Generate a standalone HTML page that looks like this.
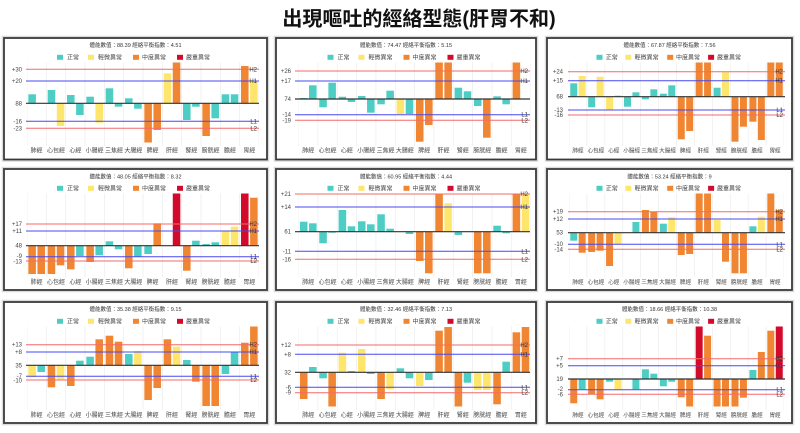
<!DOCTYPE html>
<html><head><meta charset="utf-8"><style>
html,body{margin:0;padding:0;background:#fff;}
svg{display:block}
text{font-family:"Liberation Sans","Noto Sans CJK TC",sans-serif}
.t{fill:#4ecdc4}.y{fill:#fde66b}.o{fill:#f08532}.r{fill:#d20a2b}
.box{fill:#fff;stroke:#3a3a3a;stroke-width:1.8}
.halo{fill:none;stroke:#dcdcdc;stroke-width:1.5}
.grid{stroke:#ececec;stroke-width:0.7;fill:none}
.rd{stroke:#f36a6a;stroke-width:1;fill:none}
.bl{stroke:#4848f0;stroke-width:1;fill:none}
.bk{stroke:#333;stroke-width:1.2;fill:none}
.yl{font-size:6px;text-anchor:end;fill:#444}
.rl{font-size:6px;text-anchor:end;fill:#333}
.xl{font-size:6px;text-anchor:middle;fill:#444}
.xs{font-size:5.6px;text-anchor:middle;fill:#444}
.sub{font-size:5.5px;text-anchor:middle;fill:#333}
.lg{font-size:6px;fill:#444}
.ttl{font-size:20px;font-weight:bold;text-anchor:middle;fill:#111}
</style></head><body>
<svg width="800" height="433" viewBox="0 0 800 433" xmlns="http://www.w3.org/2000/svg">
<text class="ttl" x="419" y="25.5">出現嘔吐的經絡型態(肝胃不和)</text>

<!-- ================= CHART 1 ================= -->
<rect class="halo" x="2.5" y="36.5" width="266" height="124.5"/>
<rect class="box" x="4" y="38" width="263" height="121.5"/>
<text class="sub" x="135.5" y="47">體能數值：88.39 經絡平衡指數：4.51</text>
<rect class="t" x="57" y="54.8" width="6" height="5"/><text class="lg" x="67" y="59.4">正常</text>
<rect class="y" x="88" y="54.8" width="6" height="5"/><text class="lg" x="98" y="59.4">輕微異常</text>
<rect class="o" x="133" y="54.8" width="6" height="5"/><text class="lg" x="142" y="59.4">中度異常</text>
<rect class="r" x="177" y="54.8" width="6" height="5"/><text class="lg" x="186" y="59.4">嚴重異常</text>
<svg x="27" y="0" width="232" height="433" viewBox="0 0 120 433" preserveAspectRatio="none">
<path class="grid" vector-effect="non-scaling-stroke" d="M0 62.5V146M10 62.5V146M20 62.5V146M30 62.5V146M40 62.5V146M50 62.5V146M60 62.5V146M70 62.5V146M80 62.5V146M90 62.5V146M100 62.5V146M110 62.5V146M120 62.5V146"/>
<rect class="t" x="0.7" y="94.3" width="3.9" height="9"/>
<rect class="t" x="10.7" y="90" width="3.9" height="13.3"/>
<rect class="y" x="15.4" y="103.3" width="3.9" height="22.7"/>
<rect class="t" x="20.7" y="95" width="3.9" height="8.3"/>
<rect class="t" x="25.4" y="103.3" width="3.9" height="11.7"/>
<rect class="t" x="30.7" y="96.7" width="3.9" height="6.6"/>
<rect class="y" x="35.4" y="103.3" width="3.9" height="19.4"/>
<rect class="t" x="40.7" y="88.3" width="3.9" height="15"/>
<rect class="t" x="45.4" y="103.3" width="3.9" height="3.4"/>
<rect class="t" x="50.7" y="98.3" width="3.9" height="5"/>
<rect class="t" x="55.4" y="103.3" width="3.9" height="5.4"/>
<rect class="o" x="60.7" y="103.3" width="3.9" height="39.2"/>
<rect class="o" x="65.4" y="103.3" width="3.9" height="26.7"/>
<rect class="y" x="70.7" y="73.3" width="3.9" height="30"/>
<rect class="o" x="75.4" y="62.5" width="3.9" height="40.8"/>
<rect class="t" x="80.7" y="103.3" width="3.9" height="16.7"/>
<rect class="t" x="85.4" y="103.3" width="3.9" height="3.4"/>
<rect class="o" x="90.7" y="103.3" width="3.9" height="32.7"/>
<rect class="t" x="95.4" y="103.3" width="3.9" height="15"/>
<rect class="t" x="100.7" y="94.3" width="3.9" height="9"/>
<rect class="t" x="105.4" y="94.3" width="3.9" height="9"/>
<rect class="o" x="110.7" y="66" width="3.9" height="37.3"/>
<rect class="y" x="115.4" y="81" width="3.9" height="22.3"/>
</svg>
<path class="rd" d="M26 69.3H259M26 128.3H259"/>
<path class="bl" d="M26 81H259M26 121.3H259"/>
<path class="bk" d="M26 103.3H259"/>
<text class="yl" x="22" y="71.3">+30</text>
<text class="yl" x="22" y="83">+20</text>
<text class="yl" x="22" y="105.3">88</text>
<text class="yl" x="22" y="123.3">-16</text>
<text class="yl" x="22" y="130.3">-23</text>
<text class="rl" x="257" y="71.3">H2</text>
<text class="rl" x="257" y="83">H1</text>
<text class="rl" x="257" y="123.3">L1</text>
<text class="rl" x="257" y="130.3">L2</text>
<text class="xl" x="36.67" y="152.5">肺經</text>
<text class="xl" x="56" y="152.5">心包經</text>
<text class="xl" x="75.33" y="152.5">心經</text>
<text class="xl" x="94.67" y="152.5">小腸經</text>
<text class="xl" x="114" y="152.5">三焦經</text>
<text class="xl" x="133.33" y="152.5">大腸經</text>
<text class="xl" x="152.67" y="152.5">脾經</text>
<text class="xl" x="172" y="152.5">肝經</text>
<text class="xl" x="191.33" y="152.5">腎經</text>
<text class="xl" x="210.67" y="152.5">膀胱經</text>
<text class="xl" x="230" y="152.5">膽經</text>
<text class="xl" x="249.33" y="152.5">胃經</text>

<!-- ================= CHART 2 ================= -->
<rect class="halo" x="274.5" y="36.5" width="263" height="124.5"/>
<rect class="box" x="276" y="38" width="260" height="121.5"/>
<text class="sub" x="406" y="47">體能數值：74.47 經絡平衡指數：5.15</text>
<rect class="t" x="327.5" y="54.8" width="6" height="5"/><text class="lg" x="337.5" y="59.4">正常</text>
<rect class="y" x="358.5" y="54.8" width="6" height="5"/><text class="lg" x="368.5" y="59.4">輕微異常</text>
<rect class="o" x="403.5" y="54.8" width="6" height="5"/><text class="lg" x="412.5" y="59.4">中度異常</text>
<rect class="r" x="447.5" y="54.8" width="6" height="5"/><text class="lg" x="456.5" y="59.4">嚴重異常</text>
<svg x="298.6" y="0" width="232" height="433" viewBox="0 0 120 433" preserveAspectRatio="none">
<path class="grid" vector-effect="non-scaling-stroke" d="M0 62.5V146M10 62.5V146M20 62.5V146M30 62.5V146M40 62.5V146M50 62.5V146M60 62.5V146M70 62.5V146M80 62.5V146M90 62.5V146M100 62.5V146M110 62.5V146M120 62.5V146"/>
<rect class="t" x="0.7" y="98" width="3.9" height="1"/>
<rect class="t" x="5.4" y="85.3" width="3.9" height="13.7"/>
<rect class="t" x="10.7" y="99" width="3.9" height="8.3"/>
<rect class="t" x="15.4" y="82.7" width="3.9" height="16.3"/>
<rect class="t" x="20.7" y="96.7" width="3.9" height="2.3"/>
<rect class="t" x="25.4" y="99" width="3.9" height="3"/>
<rect class="t" x="30.7" y="96" width="3.9" height="3"/>
<rect class="t" x="35.4" y="99" width="3.9" height="13.7"/>
<rect class="t" x="40.7" y="99" width="3.9" height="5.3"/>
<rect class="t" x="45.4" y="90.7" width="3.9" height="8.3"/>
<rect class="y" x="50.7" y="99" width="3.9" height="15"/>
<rect class="t" x="55.4" y="99" width="3.9" height="15"/>
<rect class="o" x="60.7" y="99" width="3.9" height="42.7"/>
<rect class="o" x="65.4" y="99" width="3.9" height="26"/>
<rect class="o" x="70.7" y="62.5" width="3.9" height="36.5"/>
<rect class="o" x="75.4" y="62.5" width="3.9" height="36.5"/>
<rect class="t" x="80.7" y="87.7" width="3.9" height="11.3"/>
<rect class="t" x="85.4" y="91.3" width="3.9" height="7.7"/>
<rect class="t" x="90.7" y="99" width="3.9" height="7"/>
<rect class="o" x="95.4" y="99" width="3.9" height="38.7"/>
<rect class="t" x="100.7" y="96.3" width="3.9" height="2.7"/>
<rect class="t" x="105.4" y="99" width="3.9" height="5.3"/>
<rect class="o" x="110.7" y="62.5" width="3.9" height="36.5"/>
</svg>
<path class="rd" d="M295 71H530M295 120.3H530"/>
<path class="bl" d="M295 81H530M295 114.7H530"/>
<path class="bk" d="M295 99H530"/>
<text class="yl" x="291" y="73">+26</text>
<text class="yl" x="291" y="83">+17</text>
<text class="yl" x="291" y="101">74</text>
<text class="yl" x="291" y="116.7">-14</text>
<text class="yl" x="291" y="122.3">-19</text>
<text class="rl" x="528" y="73">H2</text>
<text class="rl" x="528" y="83">H1</text>
<text class="rl" x="528" y="116.7">L1</text>
<text class="rl" x="528" y="122.3">L2</text>
<text class="xl" x="308.27" y="152.5">肺經</text>
<text class="xl" x="327.6" y="152.5">心包經</text>
<text class="xl" x="346.93" y="152.5">心經</text>
<text class="xl" x="366.27" y="152.5">小腸經</text>
<text class="xl" x="385.6" y="152.5">三焦經</text>
<text class="xl" x="404.93" y="152.5">大腸經</text>
<text class="xl" x="424.27" y="152.5">脾經</text>
<text class="xl" x="443.6" y="152.5">肝經</text>
<text class="xl" x="462.93" y="152.5">腎經</text>
<text class="xl" x="482.27" y="152.5">膀胱經</text>
<text class="xl" x="501.6" y="152.5">膽經</text>
<text class="xl" x="520.93" y="152.5">胃經</text>

<!-- ================= CHART 3 ================= -->
<rect class="halo" x="545.5" y="36.5" width="248" height="124.5"/>
<rect class="box" x="547" y="38" width="245" height="121.5"/>
<text class="sub" x="669.5" y="47">體能數值：67.87 經絡平衡指數：7.56</text>
<rect class="t" x="596.5" y="54.8" width="6" height="5"/><text class="lg" x="605.8" y="59.4">正常</text>
<rect class="y" x="625.3" y="54.8" width="6" height="5"/><text class="lg" x="634.6" y="59.4">輕微異常</text>
<rect class="o" x="667.2" y="54.8" width="6" height="5"/><text class="lg" x="676" y="59.4">中度異常</text>
<rect class="r" x="708.1" y="54.8" width="6" height="5"/><text class="lg" x="717" y="59.4">嚴重異常</text>
<svg x="569" y="0" width="215" height="433" viewBox="0 0 120 433" preserveAspectRatio="none">
<path class="grid" vector-effect="non-scaling-stroke" d="M0 62.5V146M10 62.5V146M20 62.5V146M30 62.5V146M40 62.5V146M50 62.5V146M60 62.5V146M70 62.5V146M80 62.5V146M90 62.5V146M100 62.5V146M110 62.5V146M120 62.5V146"/>
<rect class="t" x="0.7" y="83.3" width="3.9" height="13.4"/>
<rect class="y" x="5.4" y="76" width="3.9" height="20.7"/>
<rect class="t" x="10.7" y="96.7" width="3.9" height="10.6"/>
<rect class="y" x="15.4" y="76.7" width="3.9" height="20"/>
<rect class="y" x="20.7" y="96.7" width="3.9" height="13.3"/>
<rect class="t" x="25.4" y="95.7" width="3.9" height="1"/>
<rect class="t" x="30.7" y="96.7" width="3.9" height="10"/>
<rect class="t" x="35.4" y="92.3" width="3.9" height="4.4"/>
<rect class="t" x="40.7" y="96.7" width="3.9" height="2.6"/>
<rect class="t" x="45.4" y="89.3" width="3.9" height="7.4"/>
<rect class="t" x="50.7" y="93.7" width="3.9" height="3"/>
<rect class="t" x="55.4" y="85.3" width="3.9" height="11.4"/>
<rect class="o" x="60.7" y="96.7" width="3.9" height="42.6"/>
<rect class="o" x="65.4" y="96.7" width="3.9" height="34.3"/>
<rect class="o" x="70.7" y="62.5" width="3.9" height="34.2"/>
<rect class="o" x="75.4" y="62.5" width="3.9" height="34.2"/>
<rect class="t" x="80.7" y="87.7" width="3.9" height="9"/>
<rect class="y" x="85.4" y="72.3" width="3.9" height="24.4"/>
<rect class="o" x="90.7" y="96.7" width="3.9" height="45"/>
<rect class="o" x="95.4" y="96.7" width="3.9" height="30"/>
<rect class="o" x="100.7" y="96.7" width="3.9" height="25"/>
<rect class="o" x="105.4" y="96.7" width="3.9" height="43.3"/>
<rect class="o" x="110.7" y="62.5" width="3.9" height="34.2"/>
<rect class="o" x="115.4" y="62.5" width="3.9" height="34.2"/>
</svg>
<path class="rd" d="M568 71.7H785M568 115H785"/>
<path class="bl" d="M568 80.7H785M568 110H785"/>
<path class="bk" d="M568 96.7H785"/>
<text class="yl" x="563" y="73.7">+24</text>
<text class="yl" x="563" y="82.7">+15</text>
<text class="yl" x="563" y="98.7">68</text>
<text class="yl" x="563" y="112">-13</text>
<text class="yl" x="563" y="117">-16</text>
<text class="rl" x="783" y="73.7">H2</text>
<text class="rl" x="783" y="82.7">H1</text>
<text class="rl" x="783" y="112">L1</text>
<text class="rl" x="783" y="117">L2</text>
<text class="xs" x="577.96" y="152.5">肺經</text>
<text class="xs" x="595.88" y="152.5">心包經</text>
<text class="xs" x="613.79" y="152.5">心經</text>
<text class="xs" x="631.71" y="152.5">小腸經</text>
<text class="xs" x="649.63" y="152.5">三焦經</text>
<text class="xs" x="667.54" y="152.5">大腸經</text>
<text class="xs" x="685.46" y="152.5">脾經</text>
<text class="xs" x="703.38" y="152.5">肝經</text>
<text class="xs" x="721.29" y="152.5">腎經</text>
<text class="xs" x="739.21" y="152.5">膀胱經</text>
<text class="xs" x="757.13" y="152.5">膽經</text>
<text class="xs" x="775.04" y="152.5">胃經</text>

<!-- ================= CHART 4 ================= -->
<rect class="halo" x="2.5" y="167.5" width="266" height="124"/>
<rect class="box" x="4" y="169" width="263" height="121"/>
<text class="sub" x="135.5" y="178.5">體能數值：48.05 經絡平衡指數：8.32</text>
<rect class="t" x="57" y="185.8" width="6" height="5"/><text class="lg" x="67" y="190.4">正常</text>
<rect class="y" x="88" y="185.8" width="6" height="5"/><text class="lg" x="98" y="190.4">輕微異常</text>
<rect class="o" x="133" y="185.8" width="6" height="5"/><text class="lg" x="142" y="190.4">中度異常</text>
<rect class="r" x="177" y="185.8" width="6" height="5"/><text class="lg" x="186" y="190.4">嚴重異常</text>
<svg x="27" y="0" width="232" height="433" viewBox="0 0 120 433" preserveAspectRatio="none">
<path class="grid" vector-effect="non-scaling-stroke" d="M0 193.5V277.5M10 193.5V277.5M20 193.5V277.5M30 193.5V277.5M40 193.5V277.5M50 193.5V277.5M60 193.5V277.5M70 193.5V277.5M80 193.5V277.5M90 193.5V277.5M100 193.5V277.5M110 193.5V277.5M120 193.5V277.5"/>
<rect class="o" x="0.7" y="245.7" width="3.9" height="28.3"/>
<rect class="o" x="5.4" y="245.7" width="3.9" height="28.3"/>
<rect class="o" x="10.7" y="245.7" width="3.9" height="28.3"/>
<rect class="o" x="15.4" y="245.7" width="3.9" height="19.6"/>
<rect class="o" x="20.7" y="245.7" width="3.9" height="23.6"/>
<rect class="t" x="25.4" y="245.7" width="3.9" height="10.3"/>
<rect class="o" x="30.7" y="245.7" width="3.9" height="16.3"/>
<rect class="t" x="35.4" y="245.7" width="3.9" height="9.6"/>
<rect class="t" x="40.7" y="241.3" width="3.9" height="4.4"/>
<rect class="t" x="45.4" y="245.7" width="3.9" height="3.6"/>
<rect class="o" x="50.7" y="245.7" width="3.9" height="22.6"/>
<rect class="t" x="55.4" y="245.7" width="3.9" height="11"/>
<rect class="t" x="60.7" y="245.7" width="3.9" height="8.3"/>
<rect class="o" x="65.4" y="223.3" width="3.9" height="22.4"/>
<rect class="r" x="75.4" y="193.5" width="3.9" height="52.2"/>
<rect class="o" x="80.7" y="245.7" width="3.9" height="25"/>
<rect class="t" x="85.4" y="240.7" width="3.9" height="5"/>
<rect class="t" x="90.7" y="244" width="3.9" height="1.7"/>
<rect class="t" x="95.4" y="242.3" width="3.9" height="3.4"/>
<rect class="y" x="100.7" y="230.7" width="3.9" height="15"/>
<rect class="y" x="105.4" y="226.7" width="3.9" height="19"/>
<rect class="r" x="110.7" y="193.5" width="3.9" height="52.2"/>
<rect class="o" x="115.4" y="197.7" width="3.9" height="48"/>
</svg>
<path class="rd" d="M26 224H259M26 261H259"/>
<path class="bl" d="M26 231H259M26 256.7H259"/>
<path class="bk" d="M26 245.7H259"/>
<text class="yl" x="22" y="226">+17</text>
<text class="yl" x="22" y="233">+11</text>
<text class="yl" x="22" y="247.7">48</text>
<text class="yl" x="22" y="258.2">-9</text>
<text class="yl" x="22" y="263.5">-13</text>
<text class="rl" x="257" y="226">H2</text>
<text class="rl" x="257" y="233">H1</text>
<text class="rl" x="257" y="258.7">L1</text>
<text class="rl" x="257" y="263">L2</text>
<text class="xl" x="36.67" y="284">肺經</text>
<text class="xl" x="56" y="284">心包經</text>
<text class="xl" x="75.33" y="284">心經</text>
<text class="xl" x="94.67" y="284">小腸經</text>
<text class="xl" x="114" y="284">三焦經</text>
<text class="xl" x="133.33" y="284">大腸經</text>
<text class="xl" x="152.67" y="284">脾經</text>
<text class="xl" x="172" y="284">肝經</text>
<text class="xl" x="191.33" y="284">腎經</text>
<text class="xl" x="210.67" y="284">膀胱經</text>
<text class="xl" x="230" y="284">膽經</text>
<text class="xl" x="249.33" y="284">胃經</text>

<!-- ================= CHART 5 ================= -->
<rect class="halo" x="274.5" y="167.5" width="263" height="124"/>
<rect class="box" x="276" y="169" width="260" height="121"/>
<text class="sub" x="406" y="178.5">體能數值：60.95 經絡平衡指數：4.44</text>
<rect class="t" x="327.5" y="185.8" width="6" height="5"/><text class="lg" x="337.5" y="190.4">正常</text>
<rect class="y" x="358.5" y="185.8" width="6" height="5"/><text class="lg" x="368.5" y="190.4">輕微異常</text>
<rect class="o" x="403.5" y="185.8" width="6" height="5"/><text class="lg" x="412.5" y="190.4">中度異常</text>
<rect class="r" x="447.5" y="185.8" width="6" height="5"/><text class="lg" x="456.5" y="190.4">嚴重異常</text>
<svg x="298.6" y="0" width="232" height="433" viewBox="0 0 120 433" preserveAspectRatio="none">
<path class="grid" vector-effect="non-scaling-stroke" d="M0 193.5V277.5M10 193.5V277.5M20 193.5V277.5M30 193.5V277.5M40 193.5V277.5M50 193.5V277.5M60 193.5V277.5M70 193.5V277.5M80 193.5V277.5M90 193.5V277.5M100 193.5V277.5M110 193.5V277.5M120 193.5V277.5"/>
<rect class="t" x="0.7" y="221.7" width="3.9" height="10"/>
<rect class="t" x="5.4" y="223.3" width="3.9" height="8.4"/>
<rect class="t" x="10.7" y="231.7" width="3.9" height="11.6"/>
<rect class="t" x="15.4" y="231.7" width="3.9" height="1"/>
<rect class="t" x="20.7" y="210" width="3.9" height="21.7"/>
<rect class="t" x="25.4" y="226.3" width="3.9" height="5.4"/>
<rect class="t" x="30.7" y="221.3" width="3.9" height="10.4"/>
<rect class="t" x="35.4" y="224.3" width="3.9" height="7.4"/>
<rect class="t" x="40.7" y="214.3" width="3.9" height="17.4"/>
<rect class="t" x="45.4" y="228.7" width="3.9" height="3"/>
<rect class="t" x="55.4" y="231.7" width="3.9" height="2.3"/>
<rect class="o" x="60.7" y="231.7" width="3.9" height="29.3"/>
<rect class="o" x="65.4" y="231.7" width="3.9" height="41.6"/>
<rect class="o" x="70.7" y="193.5" width="3.9" height="38.2"/>
<rect class="y" x="75.4" y="203.3" width="3.9" height="28.4"/>
<rect class="t" x="80.7" y="231.7" width="3.9" height="3.3"/>
<rect class="o" x="90.7" y="231.7" width="3.9" height="41.6"/>
<rect class="o" x="95.4" y="231.7" width="3.9" height="41.6"/>
<rect class="t" x="100.7" y="225.7" width="3.9" height="6"/>
<rect class="t" x="105.4" y="231.7" width="3.9" height="1.6"/>
<rect class="o" x="110.7" y="193.5" width="3.9" height="38.2"/>
<rect class="y" x="115.4" y="193.5" width="3.9" height="38.2"/>
</svg>
<path class="rd" d="M295 194H530M295 259.3H530"/>
<path class="bl" d="M295 207H530M295 251.3H530"/>
<path class="bk" d="M295 231.7H530"/>
<text class="yl" x="291" y="196">+21</text>
<text class="yl" x="291" y="209">+14</text>
<text class="yl" x="291" y="233.7">61</text>
<text class="yl" x="291" y="253.3">-11</text>
<text class="yl" x="291" y="261.3">-16</text>
<text class="rl" x="528" y="196">H2</text>
<text class="rl" x="528" y="209">H1</text>
<text class="rl" x="528" y="253.3">L1</text>
<text class="rl" x="528" y="261.3">L2</text>
<text class="xl" x="308.27" y="284">肺經</text>
<text class="xl" x="327.6" y="284">心包經</text>
<text class="xl" x="346.93" y="284">心經</text>
<text class="xl" x="366.27" y="284">小腸經</text>
<text class="xl" x="385.6" y="284">三焦經</text>
<text class="xl" x="404.93" y="284">大腸經</text>
<text class="xl" x="424.27" y="284">脾經</text>
<text class="xl" x="443.6" y="284">肝經</text>
<text class="xl" x="462.93" y="284">腎經</text>
<text class="xl" x="482.27" y="284">膀胱經</text>
<text class="xl" x="501.6" y="284">膽經</text>
<text class="xl" x="520.93" y="284">胃經</text>

<!-- ================= CHART 6 ================= -->
<rect class="halo" x="545.5" y="167.5" width="248" height="124"/>
<rect class="box" x="547" y="169" width="245" height="121"/>
<text class="sub" x="669.5" y="178.5">體能數值：53.24 經絡平衡指數：9</text>
<rect class="t" x="596.5" y="185.8" width="6" height="5"/><text class="lg" x="605.8" y="190.4">正常</text>
<rect class="y" x="625.3" y="185.8" width="6" height="5"/><text class="lg" x="634.6" y="190.4">輕微異常</text>
<rect class="o" x="667.2" y="185.8" width="6" height="5"/><text class="lg" x="676" y="190.4">中度異常</text>
<rect class="r" x="708.1" y="185.8" width="6" height="5"/><text class="lg" x="717" y="190.4">嚴重異常</text>
<svg x="569" y="0" width="215" height="433" viewBox="0 0 120 433" preserveAspectRatio="none">
<path class="grid" vector-effect="non-scaling-stroke" d="M0 193.5V277.5M10 193.5V277.5M20 193.5V277.5M30 193.5V277.5M40 193.5V277.5M50 193.5V277.5M60 193.5V277.5M70 193.5V277.5M80 193.5V277.5M90 193.5V277.5M100 193.5V277.5M110 193.5V277.5M120 193.5V277.5"/>
<rect class="t" x="0.7" y="232.7" width="3.9" height="8"/>
<rect class="o" x="5.4" y="232.7" width="3.9" height="20"/>
<rect class="o" x="10.7" y="232.7" width="3.9" height="19.3"/>
<rect class="o" x="15.4" y="232.7" width="3.9" height="18"/>
<rect class="o" x="20.7" y="232.7" width="3.9" height="33.3"/>
<rect class="y" x="25.4" y="232.7" width="3.9" height="11.6"/>
<rect class="t" x="35.4" y="222" width="3.9" height="10.7"/>
<rect class="o" x="40.7" y="210" width="3.9" height="22.7"/>
<rect class="o" x="45.4" y="211.7" width="3.9" height="21"/>
<rect class="t" x="50.7" y="223.7" width="3.9" height="9"/>
<rect class="y" x="55.4" y="217.3" width="3.9" height="15.4"/>
<rect class="o" x="60.7" y="232.7" width="3.9" height="22.3"/>
<rect class="o" x="65.4" y="232.7" width="3.9" height="21.3"/>
<rect class="o" x="70.7" y="193.5" width="3.9" height="39.2"/>
<rect class="o" x="75.4" y="193.5" width="3.9" height="39.2"/>
<rect class="y" x="80.7" y="220" width="3.9" height="12.7"/>
<rect class="o" x="85.4" y="232.7" width="3.9" height="29"/>
<rect class="o" x="90.7" y="232.7" width="3.9" height="40.6"/>
<rect class="o" x="95.4" y="232.7" width="3.9" height="40.6"/>
<rect class="t" x="100.7" y="226.3" width="3.9" height="6.4"/>
<rect class="y" x="105.4" y="216.7" width="3.9" height="16"/>
<rect class="o" x="110.7" y="193.5" width="3.9" height="39.2"/>
<rect class="o" x="115.4" y="210" width="3.9" height="22.7"/>
</svg>
<path class="rd" d="M568 211.7H785M568 249.3H785"/>
<path class="bl" d="M568 219H785M568 244.3H785"/>
<path class="bk" d="M568 232.7H785"/>
<text class="yl" x="563" y="213.7">+19</text>
<text class="yl" x="563" y="221">+12</text>
<text class="yl" x="563" y="234.7">53</text>
<text class="yl" x="563" y="246">-10</text>
<text class="yl" x="563" y="251.5">-14</text>
<text class="rl" x="783" y="213.7">H2</text>
<text class="rl" x="783" y="221">H1</text>
<text class="rl" x="783" y="246.3">L1</text>
<text class="rl" x="783" y="251.3">L2</text>
<text class="xs" x="577.96" y="284">肺經</text>
<text class="xs" x="595.88" y="284">心包經</text>
<text class="xs" x="613.79" y="284">心經</text>
<text class="xs" x="631.71" y="284">小腸經</text>
<text class="xs" x="649.63" y="284">三焦經</text>
<text class="xs" x="667.54" y="284">大腸經</text>
<text class="xs" x="685.46" y="284">脾經</text>
<text class="xs" x="703.38" y="284">肝經</text>
<text class="xs" x="721.29" y="284">腎經</text>
<text class="xs" x="739.21" y="284">膀胱經</text>
<text class="xs" x="757.13" y="284">膽經</text>
<text class="xs" x="775.04" y="284">胃經</text>

<!-- ================= CHART 7 ================= -->
<rect class="halo" x="2.5" y="300.5" width="266" height="124"/>
<rect class="box" x="4" y="302" width="263" height="121"/>
<text class="sub" x="135.5" y="311">體能數值：35.38 經絡平衡指數：9.15</text>
<rect class="t" x="57" y="318.8" width="6" height="5"/><text class="lg" x="67" y="323.4">正常</text>
<rect class="y" x="88" y="318.8" width="6" height="5"/><text class="lg" x="98" y="323.4">輕微異常</text>
<rect class="o" x="133" y="318.8" width="6" height="5"/><text class="lg" x="142" y="323.4">中度異常</text>
<rect class="r" x="177" y="318.8" width="6" height="5"/><text class="lg" x="186" y="323.4">嚴重異常</text>
<svg x="27" y="0" width="232" height="433" viewBox="0 0 120 433" preserveAspectRatio="none">
<path class="grid" vector-effect="non-scaling-stroke" d="M0 326.5V410M10 326.5V410M20 326.5V410M30 326.5V410M40 326.5V410M50 326.5V410M60 326.5V410M70 326.5V410M80 326.5V410M90 326.5V410M100 326.5V410M110 326.5V410M120 326.5V410"/>
<rect class="y" x="0.7" y="365.3" width="3.9" height="12"/>
<rect class="t" x="5.4" y="365.3" width="3.9" height="6.7"/>
<rect class="o" x="10.7" y="365.3" width="3.9" height="22"/>
<rect class="y" x="15.4" y="365.3" width="3.9" height="14"/>
<rect class="o" x="20.7" y="365.3" width="3.9" height="20.7"/>
<rect class="t" x="25.4" y="360.7" width="3.9" height="4.6"/>
<rect class="t" x="30.7" y="356.7" width="3.9" height="8.6"/>
<rect class="o" x="35.4" y="339.3" width="3.9" height="26"/>
<rect class="o" x="40.7" y="335.7" width="3.9" height="29.6"/>
<rect class="o" x="45.4" y="341.7" width="3.9" height="23.6"/>
<rect class="t" x="50.7" y="354" width="3.9" height="11.3"/>
<rect class="y" x="55.4" y="351" width="3.9" height="14.3"/>
<rect class="o" x="60.7" y="365.3" width="3.9" height="34.7"/>
<rect class="o" x="65.4" y="365.3" width="3.9" height="22.7"/>
<rect class="o" x="70.7" y="339.3" width="3.9" height="26"/>
<rect class="y" x="75.4" y="346.7" width="3.9" height="18.6"/>
<rect class="t" x="80.7" y="360" width="3.9" height="5.3"/>
<rect class="o" x="85.4" y="365.3" width="3.9" height="16.4"/>
<rect class="o" x="90.7" y="365.3" width="3.9" height="40.7"/>
<rect class="o" x="95.4" y="365.3" width="3.9" height="40.7"/>
<rect class="t" x="100.7" y="365.3" width="3.9" height="8.7"/>
<rect class="t" x="105.4" y="352" width="3.9" height="13.3"/>
<rect class="o" x="110.7" y="342.7" width="3.9" height="22.6"/>
<rect class="o" x="115.4" y="326.5" width="3.9" height="38.8"/>
</svg>
<path class="rd" d="M26 344.7H259M26 380H259"/>
<path class="bl" d="M26 352H259M26 376.3H259"/>
<path class="bk" d="M26 365.3H259"/>
<text class="yl" x="22" y="346.7">+13</text>
<text class="yl" x="22" y="354">+8</text>
<text class="yl" x="22" y="367.3">35</text>
<text class="yl" x="22" y="377.8">-7</text>
<text class="yl" x="22" y="382.5">-10</text>
<text class="rl" x="257" y="346.7">H2</text>
<text class="rl" x="257" y="354">H1</text>
<text class="rl" x="257" y="378.3">L1</text>
<text class="rl" x="257" y="382">L2</text>
<text class="xl" x="36.67" y="417">肺經</text>
<text class="xl" x="56" y="417">心包經</text>
<text class="xl" x="75.33" y="417">心經</text>
<text class="xl" x="94.67" y="417">小腸經</text>
<text class="xl" x="114" y="417">三焦經</text>
<text class="xl" x="133.33" y="417">大腸經</text>
<text class="xl" x="152.67" y="417">脾經</text>
<text class="xl" x="172" y="417">肝經</text>
<text class="xl" x="191.33" y="417">腎經</text>
<text class="xl" x="210.67" y="417">膀胱經</text>
<text class="xl" x="230" y="417">膽經</text>
<text class="xl" x="249.33" y="417">胃經</text>

<!-- ================= CHART 8 ================= -->
<rect class="halo" x="274.5" y="300.5" width="263" height="124"/>
<rect class="box" x="276" y="302" width="260" height="121"/>
<text class="sub" x="406" y="311">體能數值：32.46 經絡平衡指數：7.13</text>
<rect class="t" x="327.5" y="318.8" width="6" height="5"/><text class="lg" x="337.5" y="323.4">正常</text>
<rect class="y" x="358.5" y="318.8" width="6" height="5"/><text class="lg" x="368.5" y="323.4">輕微異常</text>
<rect class="o" x="403.5" y="318.8" width="6" height="5"/><text class="lg" x="412.5" y="323.4">中度異常</text>
<rect class="r" x="447.5" y="318.8" width="6" height="5"/><text class="lg" x="456.5" y="323.4">嚴重異常</text>
<svg x="298.6" y="0" width="232" height="433" viewBox="0 0 120 433" preserveAspectRatio="none">
<path class="grid" vector-effect="non-scaling-stroke" d="M0 326.5V410M10 326.5V410M20 326.5V410M30 326.5V410M40 326.5V410M50 326.5V410M60 326.5V410M70 326.5V410M80 326.5V410M90 326.5V410M100 326.5V410M110 326.5V410M120 326.5V410"/>
<rect class="o" x="0.7" y="372.3" width="3.9" height="26.7"/>
<rect class="t" x="5.4" y="367" width="3.9" height="5.3"/>
<rect class="t" x="10.7" y="372.3" width="3.9" height="6"/>
<rect class="o" x="15.4" y="372.3" width="3.9" height="34.2"/>
<rect class="y" x="20.7" y="352.7" width="3.9" height="19.6"/>
<rect class="t" x="25.4" y="371" width="3.9" height="1.3"/>
<rect class="y" x="30.7" y="349" width="3.9" height="23.3"/>
<rect class="t" x="35.4" y="372.3" width="3.9" height="1.7"/>
<rect class="o" x="40.7" y="372.3" width="3.9" height="26.7"/>
<rect class="y" x="45.4" y="372.3" width="3.9" height="17"/>
<rect class="t" x="50.7" y="368.3" width="3.9" height="4"/>
<rect class="t" x="55.4" y="372.3" width="3.9" height="6"/>
<rect class="y" x="60.7" y="372.3" width="3.9" height="13.7"/>
<rect class="t" x="65.4" y="372.3" width="3.9" height="7.7"/>
<rect class="o" x="70.7" y="330.7" width="3.9" height="41.6"/>
<rect class="o" x="75.4" y="327" width="3.9" height="45.3"/>
<rect class="o" x="80.7" y="372.3" width="3.9" height="34.2"/>
<rect class="t" x="85.4" y="372.3" width="3.9" height="10.4"/>
<rect class="y" x="90.7" y="372.3" width="3.9" height="17.7"/>
<rect class="y" x="95.4" y="372.3" width="3.9" height="17.7"/>
<rect class="o" x="100.7" y="372.3" width="3.9" height="32"/>
<rect class="t" x="105.4" y="361.7" width="3.9" height="10.6"/>
<rect class="o" x="110.7" y="332.3" width="3.9" height="40"/>
<rect class="o" x="115.4" y="327" width="3.9" height="45.3"/>
</svg>
<path class="rd" d="M295 345H530M295 392.7H530"/>
<path class="bl" d="M295 354.3H530M295 387.3H530"/>
<path class="bk" d="M295 372.3H530"/>
<text class="yl" x="291" y="347">+12</text>
<text class="yl" x="291" y="356.3">+8</text>
<text class="yl" x="291" y="374.3">32</text>
<text class="yl" x="291" y="389.3">-6</text>
<text class="yl" x="291" y="394.7">-9</text>
<text class="rl" x="528" y="347">H2</text>
<text class="rl" x="528" y="356.3">H1</text>
<text class="rl" x="528" y="389.3">L1</text>
<text class="rl" x="528" y="394.7">L2</text>
<text class="xl" x="308.27" y="417">肺經</text>
<text class="xl" x="327.6" y="417">心包經</text>
<text class="xl" x="346.93" y="417">心經</text>
<text class="xl" x="366.27" y="417">小腸經</text>
<text class="xl" x="385.6" y="417">三焦經</text>
<text class="xl" x="404.93" y="417">大腸經</text>
<text class="xl" x="424.27" y="417">脾經</text>
<text class="xl" x="443.6" y="417">肝經</text>
<text class="xl" x="462.93" y="417">腎經</text>
<text class="xl" x="482.27" y="417">膀胱經</text>
<text class="xl" x="501.6" y="417">膽經</text>
<text class="xl" x="520.93" y="417">胃經</text>

<!-- ================= CHART 9 ================= -->
<rect class="halo" x="545.5" y="300.5" width="248" height="124"/>
<rect class="box" x="547" y="302" width="245" height="121"/>
<text class="sub" x="669.5" y="311">體能數值：18.66 經絡平衡指數：10.38</text>
<rect class="t" x="596.5" y="318.8" width="6" height="5"/><text class="lg" x="605.8" y="323.4">正常</text>
<rect class="y" x="625.3" y="318.8" width="6" height="5"/><text class="lg" x="634.6" y="323.4">輕微異常</text>
<rect class="o" x="667.2" y="318.8" width="6" height="5"/><text class="lg" x="676" y="323.4">中度異常</text>
<rect class="r" x="708.1" y="318.8" width="6" height="5"/><text class="lg" x="717" y="323.4">嚴重異常</text>
<svg x="569" y="0" width="215" height="433" viewBox="0 0 120 433" preserveAspectRatio="none">
<path class="grid" vector-effect="non-scaling-stroke" d="M0 326.5V410M10 326.5V410M20 326.5V410M30 326.5V410M40 326.5V410M50 326.5V410M60 326.5V410M70 326.5V410M80 326.5V410M90 326.5V410M100 326.5V410M110 326.5V410M120 326.5V410"/>
<rect class="o" x="0.7" y="379" width="3.9" height="24.3"/>
<rect class="t" x="5.4" y="379" width="3.9" height="10.3"/>
<rect class="o" x="10.7" y="379" width="3.9" height="15.3"/>
<rect class="o" x="15.4" y="379" width="3.9" height="20.3"/>
<rect class="t" x="20.7" y="379" width="3.9" height="2.7"/>
<rect class="y" x="25.4" y="379" width="3.9" height="11"/>
<rect class="t" x="35.4" y="379" width="3.9" height="10.3"/>
<rect class="t" x="40.7" y="369.3" width="3.9" height="9.7"/>
<rect class="t" x="45.4" y="373.7" width="3.9" height="5.3"/>
<rect class="t" x="50.7" y="379" width="3.9" height="7.3"/>
<rect class="t" x="55.4" y="379" width="3.9" height="2.7"/>
<rect class="o" x="60.7" y="379" width="3.9" height="18.3"/>
<rect class="o" x="65.4" y="379" width="3.9" height="27.5"/>
<rect class="r" x="70.7" y="326.5" width="3.9" height="52.5"/>
<rect class="o" x="75.4" y="335.7" width="3.9" height="43.3"/>
<rect class="o" x="80.7" y="379" width="3.9" height="27.5"/>
<rect class="o" x="85.4" y="379" width="3.9" height="27.5"/>
<rect class="o" x="90.7" y="379" width="3.9" height="27.5"/>
<rect class="o" x="95.4" y="379" width="3.9" height="18.7"/>
<rect class="t" x="100.7" y="370" width="3.9" height="9"/>
<rect class="o" x="105.4" y="352" width="3.9" height="27"/>
<rect class="o" x="110.7" y="330.7" width="3.9" height="48.3"/>
<rect class="r" x="115.4" y="326.5" width="3.9" height="52.5"/>
</svg>
<path class="rd" d="M568 358.7H785M568 394.3H785"/>
<path class="bl" d="M568 365.7H785M568 389.7H785"/>
<path class="bk" d="M568 379H785"/>
<text class="yl" x="563" y="360.7">+7</text>
<text class="yl" x="563" y="367.7">+5</text>
<text class="yl" x="563" y="381">19</text>
<text class="yl" x="563" y="391.2">-2</text>
<text class="yl" x="563" y="396.6">-6</text>
<text class="rl" x="783" y="360.7">H2</text>
<text class="rl" x="783" y="367.7">H1</text>
<text class="rl" x="783" y="391.7">L1</text>
<text class="rl" x="783" y="396.3">L2</text>
<text class="xs" x="577.96" y="417">肺經</text>
<text class="xs" x="595.88" y="417">心包經</text>
<text class="xs" x="613.79" y="417">心經</text>
<text class="xs" x="631.71" y="417">小腸經</text>
<text class="xs" x="649.63" y="417">三焦經</text>
<text class="xs" x="667.54" y="417">大腸經</text>
<text class="xs" x="685.46" y="417">脾經</text>
<text class="xs" x="703.38" y="417">肝經</text>
<text class="xs" x="721.29" y="417">腎經</text>
<text class="xs" x="739.21" y="417">膀胱經</text>
<text class="xs" x="757.13" y="417">膽經</text>
<text class="xs" x="775.04" y="417">胃經</text>
</svg>
</body></html>
